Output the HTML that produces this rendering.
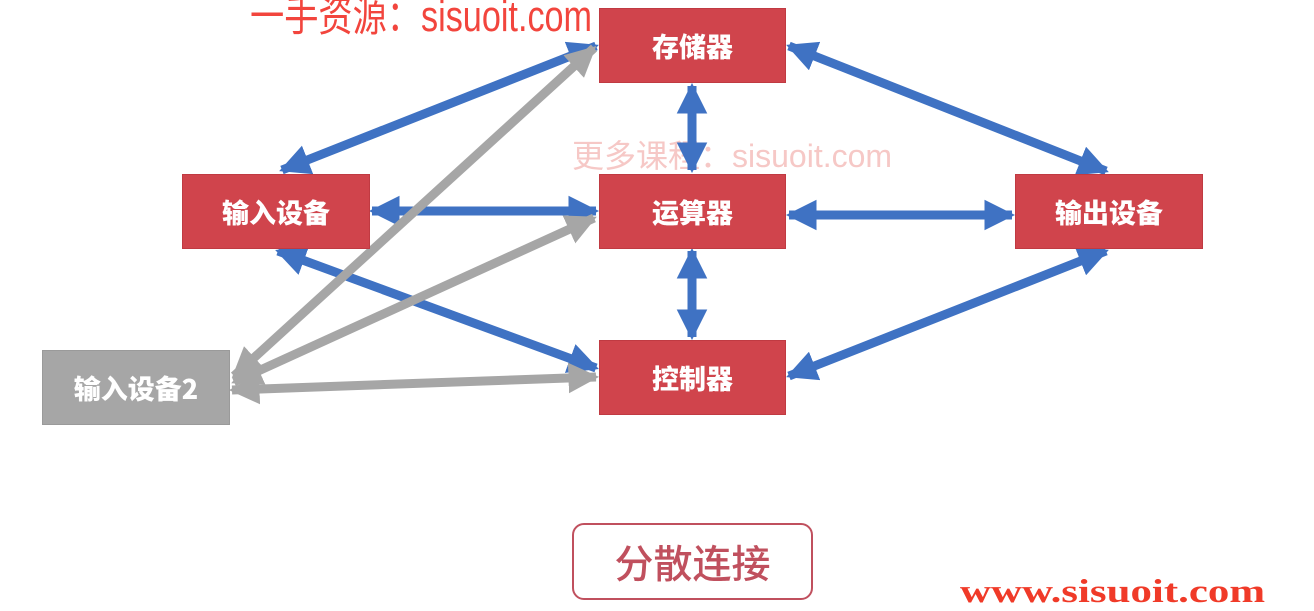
<!DOCTYPE html>
<html><head><meta charset="utf-8"><style>
body{margin:0;width:1314px;height:611px;background:#fff;overflow:hidden;position:relative;font-family:"Liberation Sans","Noto Sans CJK SC",sans-serif}
.b{position:absolute;background:#d0444c;color:#fff;font-weight:900;font-size:27px;display:flex;align-items:center;justify-content:center;border:1px solid #c03a42;box-sizing:border-box;font-family:"Noto Sans CJK SC",sans-serif}
</style></head><body>
<div style="position:absolute;left:250px;top:-18px;color:#f2453d;font-size:36px;white-space:nowrap;transform:scale(0.95,1.2);transform-origin:left top">一手资源：sisuoit.com</div>
<div style="position:absolute;left:572px;top:131px;color:#f6c8c6;font-size:32px;white-space:nowrap">更多课程：sisuoit.com</div>
<svg width="1314" height="611" style="position:absolute;left:0;top:0">
<defs>
<marker id="hb" viewBox="0 0 10 10" refX="9" refY="5" markerWidth="3.4" markerHeight="3.4" orient="auto-start-reverse" markerUnits="strokeWidth"><path d="M0,0L10,5L0,10z" fill="#3f72c3"/></marker>
<marker id="hg" viewBox="0 0 10 10" refX="9" refY="5" markerWidth="3.4" markerHeight="3.4" orient="auto-start-reverse" markerUnits="strokeWidth"><path d="M0,0L10,5L0,10z" fill="#a6a6a6"/></marker>
</defs>
<g stroke="#3f72c3" stroke-width="9" marker-start="url(#hb)" marker-end="url(#hb)">
<line x1="596" y1="46" x2="282" y2="170"/>
<line x1="692" y1="86" x2="692" y2="170"/>
<line x1="789" y1="46" x2="1106" y2="171"/>
<line x1="372" y1="211" x2="596" y2="211"/>
<line x1="789" y1="215" x2="1012" y2="215"/>
<line x1="692" y1="251" x2="692" y2="337"/>
<line x1="278" y1="251" x2="596" y2="368"/>
<line x1="1106" y1="251" x2="789" y2="376"/>
</g>
<g stroke="#a6a6a6" stroke-width="9" marker-start="url(#hg)" marker-end="url(#hg)">
<line x1="234" y1="376" x2="594" y2="48"/>
<line x1="234" y1="382" x2="594" y2="218"/>
<line x1="232" y1="390" x2="596" y2="377"/>
</g>
</svg>
<div class="b" style="left:599px;top:8px;width:187px;height:75px">存储器</div>
<div class="b" style="left:182px;top:174px;width:188px;height:75px">输入设备</div>
<div class="b" style="left:599px;top:174px;width:187px;height:75px">运算器</div>
<div class="b" style="left:1015px;top:174px;width:188px;height:75px">输出设备</div>
<div class="b" style="left:599px;top:340px;width:187px;height:75px">控制器</div>
<div class="b" style="left:42px;top:350px;width:188px;height:75px;background:#a6a6a6;border-color:#9a9a9a">输入设备2</div>
<div style="position:absolute;left:572px;top:523px;width:241px;height:77px;box-sizing:border-box;border:2px solid #c0505e;border-radius:12px;display:flex;align-items:center;justify-content:center;color:#c0505e;font-size:39px;font-family:'Noto Sans CJK SC',sans-serif;font-weight:500">分散连接</div>
<div style="position:absolute;left:960px;top:574px;color:#f03a28;font-family:'Liberation Serif',serif;font-weight:bold;font-size:33px;white-space:nowrap;transform:scaleX(1.3);transform-origin:left top">www.sisuoit.com</div>
</body></html>
